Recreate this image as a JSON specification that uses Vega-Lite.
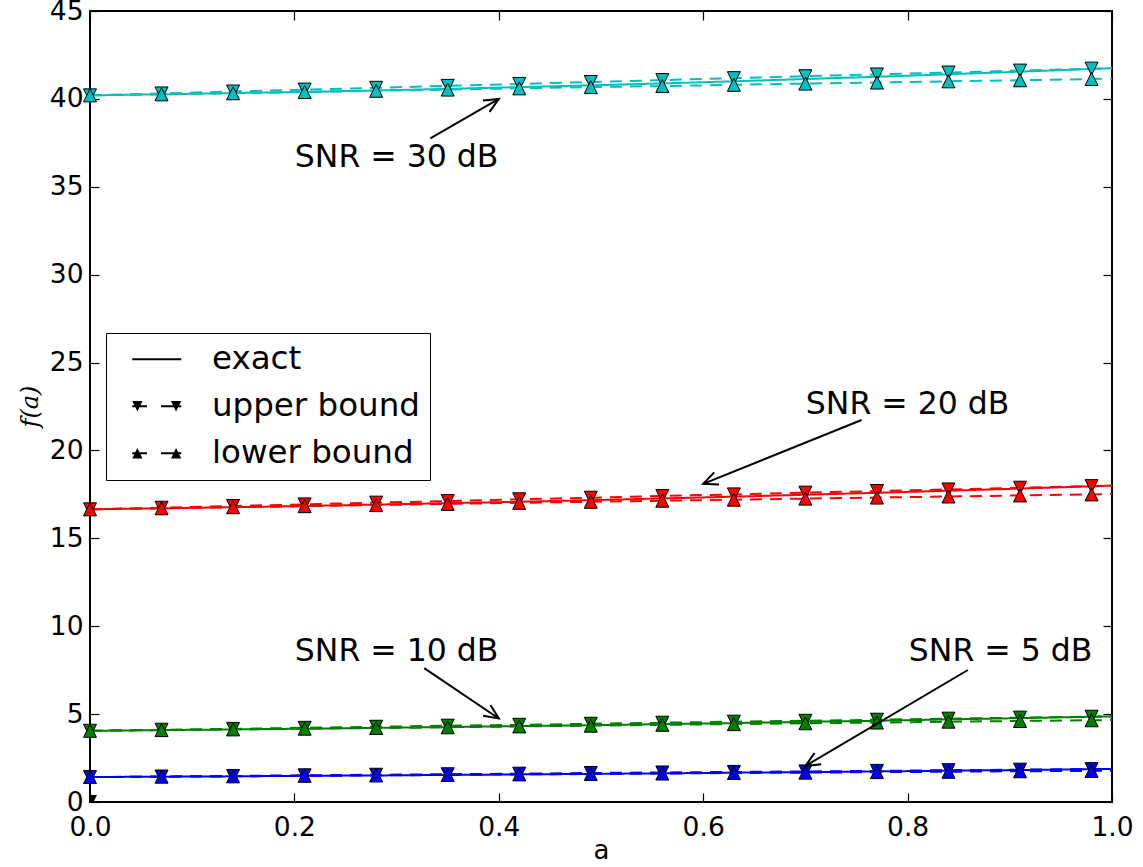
{
  "$schema": "https://vega.github.io/schema/vega-lite/v6.json",
  "width": 1022,
  "height": 791,
  "autosize": {"type": "none"},
  "padding": {"left": 90, "top": 11, "right": 31, "bottom": 65},
  "background": "white",
  "config": {
    "font": "DejaVu Sans",
    "view": {"stroke": "black", "strokeWidth": 2},
    "axis": {
      "grid": false,
      "domain": false,
      "tickColor": "black",
      "tickWidth": 1.2,
      "tickSize": -9,
      "labelColor": "black",
      "labelFont": "DejaVu Sans",
      "labelFontSize": 26.5,
      "labelFlush": false,
      "labelOverlap": false,
      "labelBound": false,
      "titleColor": "black",
      "titleFontWeight": "normal"
    }
  },
  "datasets": {
    "curves": [
      {"snr": "30 dB", "a": 0.00, "exact": 40.20, "upper": 40.20, "lower": 40.20},
      {"snr": "30 dB", "a": 0.07, "exact": 40.26, "upper": 40.31, "lower": 40.26},
      {"snr": "30 dB", "a": 0.14, "exact": 40.33, "upper": 40.42, "lower": 40.32},
      {"snr": "30 dB", "a": 0.21, "exact": 40.40, "upper": 40.53, "lower": 40.39},
      {"snr": "30 dB", "a": 0.28, "exact": 40.48, "upper": 40.63, "lower": 40.46},
      {"snr": "30 dB", "a": 0.35, "exact": 40.57, "upper": 40.74, "lower": 40.53},
      {"snr": "30 dB", "a": 0.42, "exact": 40.67, "upper": 40.85, "lower": 40.60},
      {"snr": "30 dB", "a": 0.49, "exact": 40.77, "upper": 40.96, "lower": 40.67},
      {"snr": "30 dB", "a": 0.56, "exact": 40.88, "upper": 41.07, "lower": 40.73},
      {"snr": "30 dB", "a": 0.63, "exact": 41.00, "upper": 41.18, "lower": 40.80},
      {"snr": "30 dB", "a": 0.70, "exact": 41.13, "upper": 41.29, "lower": 40.87},
      {"snr": "30 dB", "a": 0.77, "exact": 41.26, "upper": 41.39, "lower": 40.93},
      {"snr": "30 dB", "a": 0.84, "exact": 41.40, "upper": 41.50, "lower": 41.00},
      {"snr": "30 dB", "a": 0.91, "exact": 41.55, "upper": 41.61, "lower": 41.06},
      {"snr": "30 dB", "a": 0.98, "exact": 41.70, "upper": 41.72, "lower": 41.13},
      {"snr": "30 dB", "a": 1.00, "exact": 41.75, "upper": 41.75, "lower": 41.15},
      {"snr": "20 dB", "a": 0.00, "exact": 16.65, "upper": 16.65, "lower": 16.65},
      {"snr": "20 dB", "a": 0.07, "exact": 16.71, "upper": 16.74, "lower": 16.71},
      {"snr": "20 dB", "a": 0.14, "exact": 16.77, "upper": 16.84, "lower": 16.77},
      {"snr": "20 dB", "a": 0.21, "exact": 16.84, "upper": 16.93, "lower": 16.83},
      {"snr": "20 dB", "a": 0.28, "exact": 16.92, "upper": 17.03, "lower": 16.89},
      {"snr": "20 dB", "a": 0.35, "exact": 17.00, "upper": 17.12, "lower": 16.96},
      {"snr": "20 dB", "a": 0.42, "exact": 17.08, "upper": 17.22, "lower": 17.02},
      {"snr": "20 dB", "a": 0.49, "exact": 17.17, "upper": 17.31, "lower": 17.08},
      {"snr": "20 dB", "a": 0.56, "exact": 17.27, "upper": 17.41, "lower": 17.14},
      {"snr": "20 dB", "a": 0.63, "exact": 17.37, "upper": 17.50, "lower": 17.20},
      {"snr": "20 dB", "a": 0.70, "exact": 17.48, "upper": 17.60, "lower": 17.26},
      {"snr": "20 dB", "a": 0.77, "exact": 17.59, "upper": 17.69, "lower": 17.32},
      {"snr": "20 dB", "a": 0.84, "exact": 17.71, "upper": 17.78, "lower": 17.38},
      {"snr": "20 dB", "a": 0.91, "exact": 17.83, "upper": 17.88, "lower": 17.44},
      {"snr": "20 dB", "a": 0.98, "exact": 17.96, "upper": 17.97, "lower": 17.50},
      {"snr": "20 dB", "a": 1.00, "exact": 18.00, "upper": 18.00, "lower": 17.52},
      {"snr": "10 dB", "a": 0.00, "exact": 4.05, "upper": 4.05, "lower": 4.05},
      {"snr": "10 dB", "a": 0.07, "exact": 4.09, "upper": 4.11, "lower": 4.09},
      {"snr": "10 dB", "a": 0.14, "exact": 4.13, "upper": 4.16, "lower": 4.13},
      {"snr": "10 dB", "a": 0.21, "exact": 4.17, "upper": 4.22, "lower": 4.17},
      {"snr": "10 dB", "a": 0.28, "exact": 4.22, "upper": 4.28, "lower": 4.21},
      {"snr": "10 dB", "a": 0.35, "exact": 4.26, "upper": 4.34, "lower": 4.25},
      {"snr": "10 dB", "a": 0.42, "exact": 4.32, "upper": 4.39, "lower": 4.30},
      {"snr": "10 dB", "a": 0.49, "exact": 4.37, "upper": 4.45, "lower": 4.34},
      {"snr": "10 dB", "a": 0.56, "exact": 4.43, "upper": 4.51, "lower": 4.39},
      {"snr": "10 dB", "a": 0.63, "exact": 4.49, "upper": 4.57, "lower": 4.43},
      {"snr": "10 dB", "a": 0.70, "exact": 4.56, "upper": 4.62, "lower": 4.48},
      {"snr": "10 dB", "a": 0.77, "exact": 4.62, "upper": 4.68, "lower": 4.52},
      {"snr": "10 dB", "a": 0.84, "exact": 4.70, "upper": 4.74, "lower": 4.57},
      {"snr": "10 dB", "a": 0.91, "exact": 4.77, "upper": 4.80, "lower": 4.61},
      {"snr": "10 dB", "a": 0.98, "exact": 4.85, "upper": 4.85, "lower": 4.65},
      {"snr": "10 dB", "a": 1.00, "exact": 4.87, "upper": 4.87, "lower": 4.66},
      {"snr": "5 dB", "a": 0.00, "exact": 1.42, "upper": 1.42, "lower": 1.42},
      {"snr": "5 dB", "a": 0.07, "exact": 1.44, "upper": 1.45, "lower": 1.44},
      {"snr": "5 dB", "a": 0.14, "exact": 1.46, "upper": 1.48, "lower": 1.46},
      {"snr": "5 dB", "a": 0.21, "exact": 1.49, "upper": 1.52, "lower": 1.49},
      {"snr": "5 dB", "a": 0.28, "exact": 1.51, "upper": 1.55, "lower": 1.51},
      {"snr": "5 dB", "a": 0.35, "exact": 1.54, "upper": 1.58, "lower": 1.54},
      {"snr": "5 dB", "a": 0.42, "exact": 1.57, "upper": 1.61, "lower": 1.57},
      {"snr": "5 dB", "a": 0.49, "exact": 1.60, "upper": 1.65, "lower": 1.59},
      {"snr": "5 dB", "a": 0.56, "exact": 1.63, "upper": 1.68, "lower": 1.62},
      {"snr": "5 dB", "a": 0.63, "exact": 1.67, "upper": 1.71, "lower": 1.65},
      {"snr": "5 dB", "a": 0.70, "exact": 1.70, "upper": 1.74, "lower": 1.67},
      {"snr": "5 dB", "a": 0.77, "exact": 1.74, "upper": 1.77, "lower": 1.70},
      {"snr": "5 dB", "a": 0.84, "exact": 1.78, "upper": 1.81, "lower": 1.72},
      {"snr": "5 dB", "a": 0.91, "exact": 1.82, "upper": 1.84, "lower": 1.75},
      {"snr": "5 dB", "a": 0.98, "exact": 1.87, "upper": 1.87, "lower": 1.77},
      {"snr": "5 dB", "a": 1.00, "exact": 1.88, "upper": 1.88, "lower": 1.78}
    ],
    "proxies": [
      {"bound": "exact", "a": 0, "f": 0},
      {"bound": "upper bound", "a": 0, "f": 0},
      {"bound": "lower bound", "a": 0, "f": 0}
    ],
    "notes": [
      {"label": "SNR = 30 dB", "tx": 0.30, "ty": 36.64, "a0": 0.333, "f0": 37.75, "a1": 0.40, "f1": 40.0},
      {"label": "SNR = 20 dB", "tx": 0.80, "ty": 22.58, "a0": 0.755, "f0": 21.73, "a1": 0.60, "f1": 18.1},
      {"label": "SNR = 10 dB", "tx": 0.30, "ty": 8.53, "a0": 0.327, "f0": 7.62, "a1": 0.40, "f1": 4.75},
      {"label": "SNR = 5 dB", "tx": 0.891, "ty": 8.53, "a0": 0.859, "f0": 7.51, "a1": 0.70, "f1": 2.05}
    ]
  },
  "layer": [
    {
      "data": {"name": "curves"},
      "transform": [{"fold": ["exact", "upper", "lower"], "as": ["bound", "f"]}],
      "mark": {"type": "line", "strokeWidth": 2, "clip": true},
      "encoding": {
        "x": {
          "field": "a", "type": "quantitative",
          "scale": {"domain": [0, 1], "nice": false},
          "axis": {
            "orient": "bottom",
            "values": [0, 0.2, 0.4, 0.6, 0.8, 1],
            "format": ".1f",
            "labelPadding": 21,
            "title": "a",
            "titleFont": "DejaVu Sans",
            "titleFontSize": 26,
            "titleY": 56,
            "titleBaseline": "alphabetic"
          }
        },
        "y": {
          "field": "f", "type": "quantitative",
          "scale": {"domain": [0, 45], "nice": false},
          "axis": {
            "orient": "left",
            "values": [0, 5, 10, 15, 20, 25, 30, 35, 40, 45],
            "labelPadding": 16,
            "title": "f(a)",
            "titleFont": "DejaVu Serif",
            "titleFontStyle": "italic",
            "titleFontSize": 24,
            "titleX": -60,
            "titleY": 395,
            "titleAngle": -90,
            "titleAlign": "center",
            "titleBaseline": "middle"
          }
        },
        "color": {
          "field": "snr", "type": "nominal",
          "scale": {"domain": ["5 dB", "10 dB", "20 dB", "30 dB"], "range": ["#0000FF", "#008000", "#FF0000", "#00BFBF"]},
          "legend": null
        },
        "strokeDash": {
          "field": "bound", "type": "nominal",
          "scale": {"domain": ["exact", "upper", "lower"], "range": [[1, 0], [12, 8], [12, 8]]},
          "legend": null
        }
      }
    },
    {
      "data": {"name": "curves"},
      "transform": [{"filter": "datum.a < 0.99"}],
      "mark": {"type": "point", "shape": "M-1,-1L1,-1L0,1Z", "filled": true, "size": 169, "opacity": 1, "stroke": "black", "strokeWidth": 1},
      "encoding": {
        "x": {
          "field": "a", "type": "quantitative",
          "axis": {"orient": "top", "values": [0, 0.2, 0.4, 0.6, 0.8, 1], "labels": false, "title": null}
        },
        "y": {
          "field": "upper", "type": "quantitative",
          "axis": {"orient": "right", "values": [0, 5, 10, 15, 20, 25, 30, 35, 40, 45], "labels": false, "title": null}
        },
        "color": {"field": "snr", "type": "nominal", "legend": null}
      }
    },
    {
      "data": {"name": "curves"},
      "transform": [{"filter": "datum.a < 0.99"}],
      "mark": {"type": "point", "shape": "M0,-1L1,1L-1,1Z", "filled": true, "size": 169, "opacity": 1, "stroke": "black", "strokeWidth": 1},
      "encoding": {
        "x": {"field": "a", "type": "quantitative", "axis": null},
        "y": {"field": "lower", "type": "quantitative", "axis": null},
        "color": {"field": "snr", "type": "nominal", "legend": null}
      }
    },
    {
      "data": {"name": "proxies"},
      "transform": [{"filter": "datum.bound == 'upper bound'"}],
      "mark": {"type": "point", "shape": "M-1,-1L1,-1L0,1Z M0,-1L1,1L-1,1Z", "filled": true, "size": 196, "opacity": 1, "color": "black", "clip": true},
      "encoding": {
        "x": {"field": "a", "type": "quantitative", "axis": null},
        "y": {"field": "f", "type": "quantitative", "axis": null}
      }
    },
    {
      "data": {"name": "proxies"},
      "mark": {"type": "point", "filled": true, "opacity": 0, "color": "black"},
      "encoding": {
        "shape": {
          "field": "bound", "type": "nominal",
          "scale": {
            "domain": ["exact", "upper bound", "lower bound"],
            "range": [
              "M0,-0.08H4V0.08H0Z",
              "M0,-0.08H1.2V0.08H0Z M2.35,-0.08H4V0.08H2.35Z M0,-0.42H0.84L0.42,0.42Z M3.16,-0.42H4L3.58,0.42Z",
              "M0,-0.08H1.2V0.08H0Z M2.35,-0.08H4V0.08H2.35Z M0.42,-0.42L0.84,0.42H0Z M3.58,-0.42L4,0.42H3.16Z"
            ]
          },
          "legend": {
            "title": null,
            "orient": "none",
            "legendX": 16,
            "legendY": 322,
            "padding": 10,
            "symbolSize": 600,
            "labelOffset": 63.5,
            "labelFont": "DejaVu Sans",
            "labelFontSize": 32.5,
            "labelColor": "black",
            "labelLimit": 400,
            "rowPadding": 14,
            "strokeColor": "black",
            "fillColor": "white",
            "symbolOpacity": 1,
            "symbolFillColor": "black",
            "symbolStrokeWidth": 0,
            "encode": {
              "symbols": {"update": {"opacity": {"value": 1}, "fill": {"value": "black"}, "fillOpacity": {"value": 1}, "strokeWidth": {"value": 0}}}
            }
          }
        }
      }
    },
    {
      "data": {"name": "notes"},
      "mark": {"type": "rule", "color": "black", "strokeWidth": 2},
      "encoding": {
        "x": {"field": "a0", "type": "quantitative", "axis": null},
        "y": {"field": "f0", "type": "quantitative", "axis": null},
        "x2": {"field": "a1"},
        "y2": {"field": "f1"}
      }
    },
    {
      "data": {"name": "notes"},
      "transform": [
        {"calculate": "atan2(-(datum.f1 - datum.f0) * 791 / 45, (datum.a1 - datum.a0) * 1022) * 180 / PI", "as": "heading"}
      ],
      "mark": {"type": "point", "shape": "M-1,-0.45L0,0L-1,0.45", "filled": false, "size": 841, "opacity": 1, "stroke": "black", "strokeWidth": 2},
      "encoding": {
        "x": {"field": "a1", "type": "quantitative", "axis": null},
        "y": {"field": "f1", "type": "quantitative", "axis": null},
        "angle": {"field": "heading", "type": "quantitative", "scale": null}
      }
    },
    {
      "data": {"name": "notes"},
      "mark": {"type": "text", "font": "DejaVu Sans", "fontSize": 31.5, "color": "black", "align": "center", "baseline": "middle"},
      "encoding": {
        "x": {"field": "tx", "type": "quantitative", "axis": null},
        "y": {"field": "ty", "type": "quantitative", "axis": null},
        "text": {"field": "label"}
      }
    }
  ],
  "resolve": {"axis": {"x": "independent", "y": "independent"}}
}
